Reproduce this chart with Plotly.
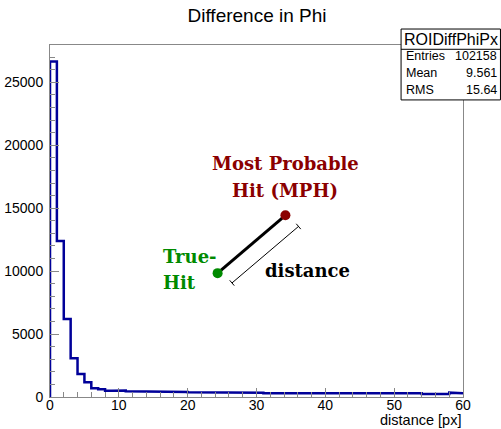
import plotly.graph_objects as go
import math

# ---- data ----
bin_edges = list(range(0, 61))
counts = [26650, 12405, 6190, 3071, 1830, 1180, 690, 610, 500, 510,
          520, 450, 450, 450, 440, 440, 440, 420, 400, 400,
          370, 370, 375, 370, 365, 370, 370, 375, 370, 365,
          345, 295, 295, 320, 320, 345, 345, 345, 340, 345,
          345, 340, 320, 320, 320, 320, 315, 320, 320, 320,
          345, 345, 290, 290, 240, 290, 290, 240, 345, 290]
stats_name = "ROIDiffPhiPx"
stats_rows = [("Entries", "102158"), ("Mean", "9.561"), ("RMS", "15.64")]
true_hit = (24.35, 9840)
mph = (34.2, 14440)

W, H = 501, 429
L, R, T, B = 49.5, 463, 45, 397.5
def px(x):  # pixel -> paper x
    return (x - L) / (R - L)
def py(y):  # pixel -> paper y
    return (B - y) / (B - T)

xs = [0]
ys = [0]
for i, c in enumerate(counts):
    xs += [bin_edges[i], bin_edges[i + 1]]
    ys += [c, c]

fig = go.Figure()
fig.add_trace(go.Scatter(x=xs, y=ys, mode="lines",
                         line=dict(color="#000099", width=2.5),
                         hoverinfo="skip", showlegend=False))

# illustration: true hit -> MPH
fig.add_trace(go.Scatter(x=[true_hit[0], mph[0]], y=[true_hit[1], mph[1]],
                         mode="lines", line=dict(color="black", width=3),
                         showlegend=False, hoverinfo="skip"))
fig.add_trace(go.Scatter(x=[true_hit[0]], y=[true_hit[1]], mode="markers",
                         marker=dict(color="#008a00", size=10),
                         showlegend=False, hoverinfo="skip"))
fig.add_trace(go.Scatter(x=[mph[0]], y=[mph[1]], mode="markers",
                         marker=dict(color="#8b0000", size=10),
                         showlegend=False, hoverinfo="skip"))

shapes = []
p1 = (231.7, 283.3); p2 = (298.3, 226.7)
shapes.append(dict(type="line", xref="paper", yref="paper",
                   x0=px(p1[0]), y0=py(p1[1]), x1=px(p2[0]), y1=py(p2[1]),
                   line=dict(color="black", width=1)))
dx, dy = p2[0] - p1[0], p2[1] - p1[1]
n = math.hypot(dx, dy)
nx, ny = -dy / n * 3.5, dx / n * 3.5
for p in (p1, p2):
    shapes.append(dict(type="line", xref="paper", yref="paper",
                       x0=px(p[0] - nx), y0=py(p[1] - ny),
                       x1=px(p[0] + nx), y1=py(p[1] + ny),
                       line=dict(color="black", width=1)))
# stats box
bx0, bx1, by0, by1, bdiv = 401, 500.5, 29, 100, 49.3
shapes.append(dict(type="rect", xref="paper", yref="paper",
                   x0=px(bx0), x1=px(bx1), y0=py(by1), y1=py(by0),
                   line=dict(color="black", width=1), fillcolor="white", layer="above"))
shapes.append(dict(type="line", xref="paper", yref="paper",
                   x0=px(bx0), x1=px(bx1), y0=py(bdiv), y1=py(bdiv),
                   line=dict(color="black", width=1), layer="above"))

ann = []
serif = "DejaVu Serif"
def A(text, x, y, xa="center", font=None):
    ann.append(dict(text=text, x=px(x), y=py(y), xref="paper", yref="paper",
                    xanchor=xa, yanchor="middle", showarrow=False, font=font))

red = dict(family=serif, size=18, color="#8b0000")
grn = dict(family=serif, size=18, color="#008a00")
A("<b>Most Probable</b>", 285, 164, font=red)
A("<b>Hit (MPH)</b>", 285, 191, font=red)
A("<b>True-</b>", 161, 257, xa="left", font=grn)
A("<b>Hit</b>", 161, 283, xa="left", font=grn)
A("<b>distance</b>", 307, 271, font=dict(family=serif, size=18, color="black"))
sans = "Liberation Sans"
A(stats_name, 451, 39.5, font=dict(family=sans, size=16, color="black"))
for i, (k, v) in enumerate(stats_rows):
    yy = 56 + i * 17
    A(k, 403.5, yy, xa="left", font=dict(family=sans, size=12.5, color="black"))
    A(v, 499, yy, xa="right", font=dict(family=sans, size=12.5, color="black"))
A("distance [px]", 463, 420.5, xa="right", font=dict(family=sans, size=14.5, color="black"))

fig.update_layout(
    width=W, height=H,
    margin=dict(l=L, r=W - R, t=T, b=H - B, pad=0, autoexpand=False),
    paper_bgcolor="white", plot_bgcolor="white",
    title=dict(text="Difference in Phi", x=257 / W, xanchor="center",
               y=1 - 15.5 / H, yanchor="middle", automargin=False,
               font=dict(family=sans, size=19, color="black")),
    shapes=shapes, annotations=ann,
    xaxis=dict(range=[0, 60], tickvals=[0, 10, 20, 30, 40, 50, 60],
               automargin=False,
               ticks="inside", ticklen=9, tickcolor="#888888",
               minor=dict(dtick=2, ticks="inside", ticklen=5, tickcolor="#888888"),
               showgrid=False, zeroline=False, showline=True, linecolor="#888888",
               linewidth=1, mirror=True, ticklabelstandoff=-5,
               tickfont=dict(family=sans, size=14, color="black")),
    yaxis=dict(range=[0, 27970], tickvals=[0, 5000, 10000, 15000, 20000, 25000],
               tickformat="d", ticklabelstandoff=3, automargin=False,
               ticks="inside", ticklen=9, tickcolor="#888888",
               minor=dict(dtick=1000, ticks="inside", ticklen=5, tickcolor="#888888"),
               showgrid=False, zeroline=False, showline=True, linecolor="#888888",
               linewidth=1, mirror=True,
               tickfont=dict(family=sans, size=14, color="black")),
)
fig.write_html("out.html")
